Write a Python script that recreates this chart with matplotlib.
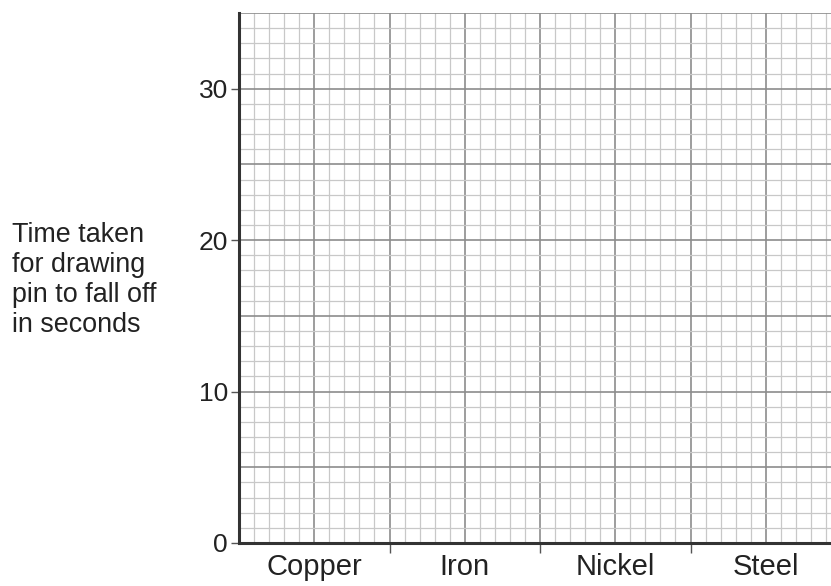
import matplotlib.pyplot as plt

plt.rcParams['font.family'] = ['Liberation Sans', 'DejaVu Sans']

# data: empty grid chart
metals = ['Copper', 'Iron', 'Nickel', 'Steel']
y_ticks = [0, 10, 20, 30]
y_max = 35
ylabel = 'Time taken\nfor drawing\npin to fall off\nin seconds'

W, H = 831, 586
fig = plt.figure(figsize=(W / 100, H / 100), dpi=100)
left, right, top, bottom = 239, 831, 13, 543
ax = fig.add_axes([left / W, (H - bottom) / H, (right - left) / W, (bottom - top) / H])

cat_w = 150.5  # pixels per category
ax.set_xlim(0, (right - left) / cat_w)
ax.set_ylim(0, y_max)

# grid
for x in [i * 0.1 for i in range(0, 40)]:
    major = abs(x * 2 - round(x * 2)) < 1e-6
    ax.axvline(x, color='#8c8c8c' if major else '#c8c8c8',
               lw=1.2 if major else 0.9, zorder=0)
for y in range(0, y_max + 1):
    major = y % 5 == 0
    ax.axhline(y, color='#8c8c8c' if major else '#c8c8c8',
               lw=1.2 if major else 0.9, zorder=0)

ax.set_xticks([1, 2, 3])
ax.set_xticklabels([])
ax.set_xticks([i + 0.5 for i in range(len(metals))], minor=True)
ax.set_xticklabels(metals, minor=True)
ax.tick_params(axis='x', which='major', direction='out', length=7, width=1, color='#555555')
ax.tick_params(axis='x', which='minor', length=0, labelsize=21, pad=7, labelcolor='#222222')
ax.set_yticks(y_ticks)
ax.yaxis.set_minor_locator(plt.NullLocator())
ax.tick_params(axis='y', which='major', direction='out', length=6, width=1,
               color='#555555', labelsize=19, pad=2, labelcolor='#222222')

for s in ['top', 'right']:
    ax.spines[s].set_visible(False)
ax.spines['left'].set_linewidth(2.2)
ax.spines['bottom'].set_linewidth(2.2)
ax.spines['left'].set_color('#333333')
ax.spines['bottom'].set_color('#333333')

fig.text(12 / W, 1 - 280 / H, ylabel, ha='left', va='center', fontsize=19.4,
         color='#222222', linespacing=1.2)

fig.savefig('out.png', dpi=100, facecolor='white')
